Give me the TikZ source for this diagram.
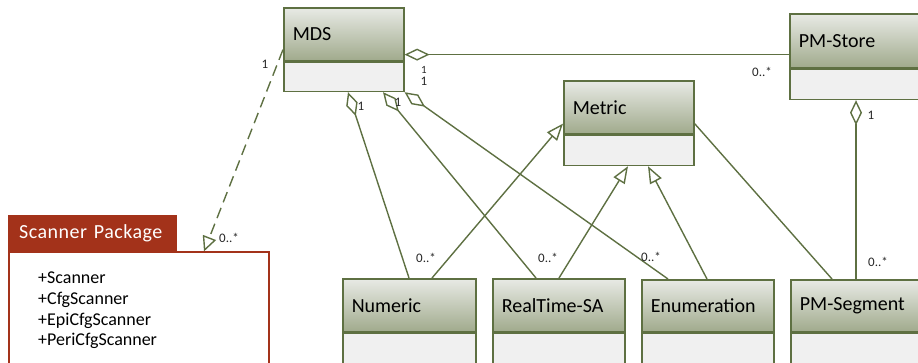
\documentclass[tikz,border=0pt]{standalone}
\usepackage{fontspec}
\setmainfont{Carlito}
\usepackage{tikz}
\usetikzlibrary{%
  arrows.meta,% Diamond, Triangle
  positioning%
}
\definecolor{umlgreen}{HTML}{5E7042}
\definecolor{headtop}{HTML}{E8EAE5}
\definecolor{headbot}{HTML}{A0AA8C}
\definecolor{bodygray}{HTML}{F0F0F0}
\definecolor{pkgred}{HTML}{A3321A}

\tikzset{
  classhead/.style = {draw=umlgreen, line width=1.6pt, top color=headtop,
    bottom color=headbot, anchor=north west, inner xsep=9pt, align=left,
    font=\fontsize{20}{24}\selectfont},
  classbody/.style = {draw=umlgreen, line width=1.6pt, fill=bodygray, anchor=north},
  mult/.style = {font=\fontsize{13}{15}\selectfont, text=black!85, inner sep=0pt},
}

\begin{document}
\begin{tikzpicture}[x=1pt, y=-1pt]
  \useasboundingbox (0,0) rectangle (918,362);
  \clip (0,0) rectangle (918,362);

  % classes
  \node[classhead, minimum width=120pt, minimum height=53pt, text width=102pt] (mds) at (283,7) {MDS};
  \node[classbody, minimum width=120pt, minimum height=29pt] (mdsB) at (mds.south) {};
  \node[classhead, minimum width=140pt, minimum height=54pt, text width=122pt] (store) at (789,13) {PM-Store};
  \node[classbody, minimum width=140pt, minimum height=30pt] (storeB) at (store.south) {};
  \node[classhead, minimum width=130pt, minimum height=53pt, text width=112pt] (metric) at (563,80) {Metric};
  \node[classbody, minimum width=130pt, minimum height=30pt] (metricB) at (metric.south) {};
  \node[classhead, minimum width=133pt, minimum height=53pt, text width=115pt] (numeric) at (342,278) {Numeric};
  \node[classbody, minimum width=133pt, minimum height=30pt] (numericB) at (numeric.south) {};
  \node[classhead, minimum width=132pt, minimum height=53pt, text width=114pt] (realtime) at (492,278) {RealTime-SA};
  \node[classbody, minimum width=132pt, minimum height=30pt] (realtimeB) at (realtime.south) {};
  \node[classhead, minimum width=132pt, minimum height=52pt, text width=114pt] (enum) at (641,279) {Enumeration};
  \node[classbody, minimum width=132pt, minimum height=30pt] (enumB) at (enum.south) {};
  \node[classhead, minimum width=135pt, minimum height=52pt, text width=117pt] (segment) at (790,279) {PM-Segment};
  \node[classbody, minimum width=135pt, minimum height=30pt] (segmentB) at (segment.south) {};

  % package
  \node[fill=pkgred, draw=pkgred, anchor=north west, minimum width=168pt, minimum height=36pt,
    text width=146pt, inner xsep=11pt, align=left, text=white,
    font=\fontsize{20}{24}\selectfont\addfontfeature{LetterSpace=2.5}] (scanner) at (8,215) {Scanner Package};
  \node[draw=pkgred, line width=1.5pt, fill=white, anchor=north west, minimum width=260pt,
    minimum height=130pt] (scannerB) at (scanner.south west) {};
  \node[anchor=north west, inner sep=0pt, align=left, font=\fontsize{18}{20.9}\selectfont]
    (scannerItems) at ([xshift=30pt,yshift=-20pt]scannerB.north west)
    {+Scanner\\+CfgScanner\\+EpiCfgScanner\\+PeriCfgScanner};

  % aggregations
  \tikzset{EdgeStyle/.style = {arrows={Diamond[open,length=25pt,width=12pt]-}, line width=1.4pt, umlgreen}}
  \draw[EdgeStyle] ([yshift=7pt]mds.south east) -- ([yshift=14pt]store.south west);
  \draw[EdgeStyle] ([xshift=65pt]mdsB.south west) -- ([xshift=67pt]numeric.north west);
  \draw[EdgeStyle] ([xshift=100pt]mdsB.south west) -- ([xshift=44pt]realtime.north west);
  \draw[EdgeStyle] (mdsB.south east) -- ([xshift=27pt]enum.north west);
  \draw[EdgeStyle] ([xshift=67pt]storeB.south west) -- ([xshift=66pt]segment.north west);

  % generalizations
  \tikzset{EdgeStyle/.style = {arrows={-Triangle[length=17pt,width=13pt,fill=white]}, line width=1.4pt, umlgreen}}
  \draw[EdgeStyle] ([xshift=90pt]numeric.north west) -- ([yshift=11pt]metric.south west);
  \draw[EdgeStyle] ([xshift=67pt]realtime.north west) -- ([xshift=65pt]metricB.south west);
  \draw[EdgeStyle] ([xshift=66pt]enum.north west) -- ([xshift=85pt]metricB.south west);

  % plain association
  \tikzset{EdgeStyle/.style = {line width=1.4pt, umlgreen}}
  \draw[EdgeStyle] ([yshift=11pt]metric.south east) -- ([xshift=42pt]segment.north west);

  % dependency
  \tikzset{EdgeStyle/.style = {arrows={-Triangle[length=15pt,width=14pt,fill=white]}, dash pattern=on 11pt off 6pt, line width=1.4pt, umlgreen}}
  \draw[EdgeStyle] ([yshift=12pt]mds.south west) -- ([xshift=196pt]scannerB.north west);

  % multiplicities
  \node[mult] (mStoreA) at (424,70) {\fontsize{11}{13}\selectfont 1};
  \node[mult] (mStoreB) at (424,81) {1};
  \node[mult] (mStoreC) at (762,72) {0..*};
  \node[mult] (mNumA) at (361,106) {1};
  \node[mult] (mNumB) at (426,258) {0..*};
  \node[mult] (mRealA) at (398,102) {1};
  \node[mult] (mRealB) at (548,258) {0..*};
  \node[mult] (mEnumB) at (651,257) {0..*};
  \node[mult] (mSegA) at (871,115) {1};
  \node[mult] (mSegB) at (878,262) {0..*};
  \node[mult] (mScanA) at (265,64) {1};
  \node[mult] (mScanB) at (229,238) {0..*};
\end{tikzpicture}
\end{document}
